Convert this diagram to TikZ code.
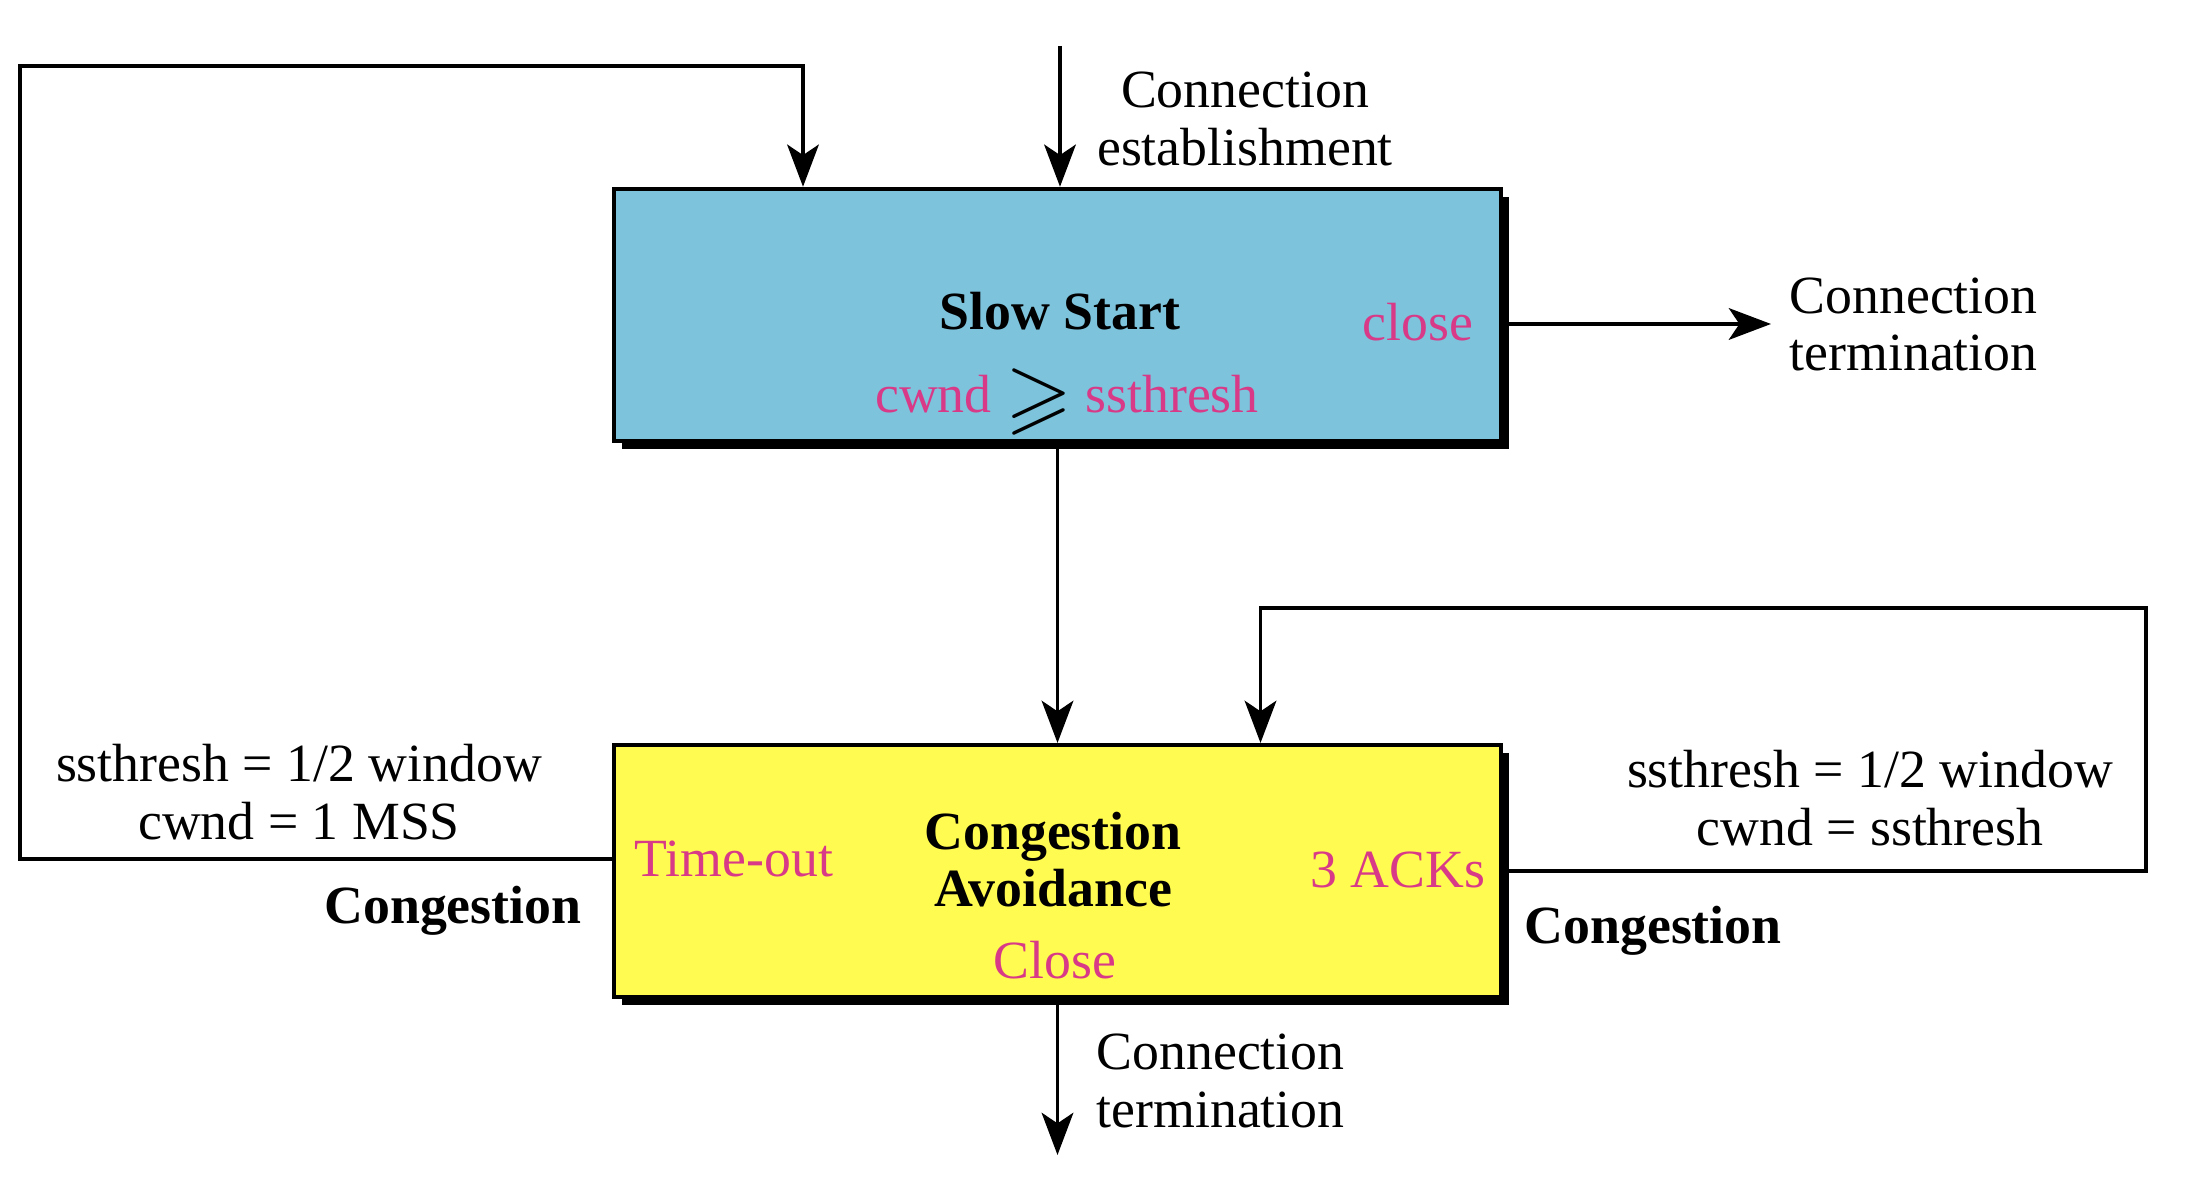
\documentclass[tikz,border=0pt]{standalone}
\usepackage{fontspec}
\setmainfont{Liberation Serif}
\usepackage{amssymb}
\usepackage{graphicx}
\usetikzlibrary{arrows.meta,shadows}
\definecolor{ssblue}{HTML}{7CC3DB}
\definecolor{cayellow}{HTML}{FFFB50}
\definecolor{evpink}{HTML}{D83A88}

\begin{document}
\begin{tikzpicture}[>={Stealth[length=12pt,width=9pt,inset=3pt]},line width=1.1pt,
  every node/.style={font=\fontsize{15.3pt}{16.4pt}\selectfont},
  box/.style={draw,minimum width=8.87cm,minimum height=2.52cm,
    drop shadow={fill=black,opacity=1,shadow xshift=0.08cm,shadow yshift=-0.08cm}},
  ev/.style={text=evpink},
  note/.style={align=center}]
\useasboundingbox (0,0) rectangle (22.08,-11.96);

\node[box,fill=ssblue] (ss) at (10.575,-3.147) {};
\node[box,fill=cayellow] (ca) at (10.575,-8.709) {};

\node (ssname) at (10.60,-3.11) {\textbf{Slow Start}};
\node[ev] (ssclose) at (14.18,-3.22) {close};
\node[ev] (sscond) at (10.67,-4.02) {cwnd \raisebox{-0.2em}{\scalebox{1.6}{\color{black}$\geqslant$}} ssthresh};
\node[note] (estab) at (12.45,-1.19) {Connection\\establishment};
\node[align=left,anchor=west] (term1) at (17.76,-3.245) {Connection\\termination};

\node[note] (caname) at (10.53,-8.595) {\textbf{Congestion}\\\textbf{Avoidance}};
\node[ev] (tout) at (7.34,-8.59) {Time-out};
\node[ev] (acks) at (13.98,-8.70) {3 ACKs};
\node[ev] (caclose) at (10.55,-9.60) {Close};
\node[align=left,anchor=west] (term2) at (10.83,-10.81) {Connection\\termination};

\node[note] (lset) at (2.99,-7.92) {ssthresh = 1/2 window\\cwnd = 1 MSS};
\node[anchor=east] (lcong) at (5.95,-9.11) {\textbf{Congestion}};
\node[note] (rset) at (18.70,-7.98) {ssthresh = 1/2 window\\cwnd = ssthresh};
\node[anchor=west] (rcong) at (15.11,-9.31) {\textbf{Congestion}};

\coordinate (est) at (10.60,-0.46);
\coordinate (fin) at (10.575,-11.55);
\coordinate (out) at (17.71,-3.24);
\coordinate (lc) at (0.20,-0.66);
\coordinate (rc) at (21.46,-6.08);

\draw[->] (est) -- (est |- ss.north);
\draw[->] (ss.south) -- (ca.north);
\draw[->] (ss.east |- out) -- (out);
\draw[->] (ca.south) -- (fin);
\draw[->] ([yshift=1.2mm]ca.west) -| (lc) -| ([xshift=-2.545cm]ss.north);
\draw[->] (ca.east) -| (rc) -| ([xshift=2.03cm]ca.north);
\end{tikzpicture}
\end{document}
